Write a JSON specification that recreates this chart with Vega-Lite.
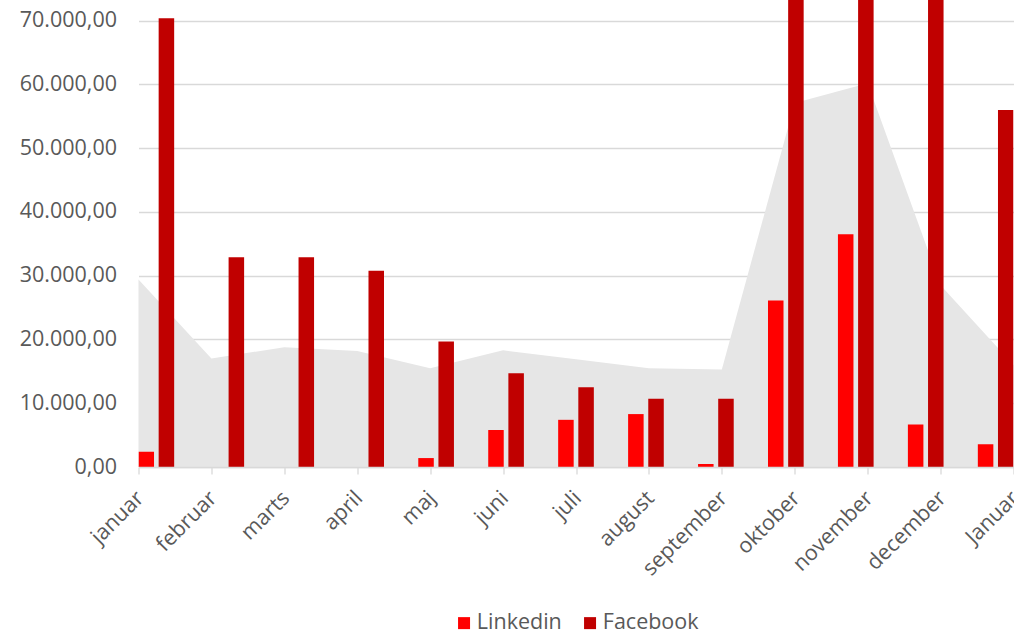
{
  "$schema": "https://vega.github.io/schema/vega-lite/v6.json",
  "width": 875,
  "height": 467,
  "autosize": {"type": "none"},
  "padding": {"left": 138.5, "top": 0, "right": 0.5, "bottom": 169},
  "config": {
    "locale": {"number": {"decimal": ",", "thousands": ".", "grouping": [3], "currency": ["", ""]}},
    "view": {"stroke": null},
    "font": "Open Sans"
  },
  "datasets": {
    "area": [
      {"month": "januar", "total": 29400},
      {"month": "februar", "total": 17000},
      {"month": "marts", "total": 18800},
      {"month": "april", "total": 18200},
      {"month": "maj", "total": 15500},
      {"month": "juni", "total": 18300},
      {"month": "juli", "total": 16900},
      {"month": "august", "total": 15500},
      {"month": "september", "total": 15300},
      {"month": "oktober", "total": 57100},
      {"month": "november", "total": 60200},
      {"month": "december", "total": 28500},
      {"month": "Januar", "total": 16000}
    ],
    "bars": [
      {"month": "januar", "series": "Linkedin", "value": 2400},
      {"month": "januar", "series": "Facebook", "value": 70400},
      {"month": "februar", "series": "Facebook", "value": 32900},
      {"month": "marts", "series": "Facebook", "value": 32900},
      {"month": "april", "series": "Facebook", "value": 30800},
      {"month": "maj", "series": "Linkedin", "value": 1400},
      {"month": "maj", "series": "Facebook", "value": 19700},
      {"month": "juni", "series": "Linkedin", "value": 5800},
      {"month": "juni", "series": "Facebook", "value": 14700},
      {"month": "juli", "series": "Linkedin", "value": 7400},
      {"month": "juli", "series": "Facebook", "value": 12500},
      {"month": "august", "series": "Linkedin", "value": 8300},
      {"month": "august", "series": "Facebook", "value": 10700},
      {"month": "september", "series": "Linkedin", "value": 470},
      {"month": "september", "series": "Facebook", "value": 10700},
      {"month": "oktober", "series": "Linkedin", "value": 26100},
      {"month": "oktober", "series": "Facebook", "value": 95000},
      {"month": "november", "series": "Linkedin", "value": 36500},
      {"month": "november", "series": "Facebook", "value": 105000},
      {"month": "december", "series": "Linkedin", "value": 6650},
      {"month": "december", "series": "Facebook", "value": 88000},
      {"month": "Januar", "series": "Linkedin", "value": 3560},
      {"month": "Januar", "series": "Facebook", "value": 56000}
    ]
  },
  "layer": [
    {
      "data": {"name": "area"},
      "mark": {"type": "area", "color": "#E6E6E6", "opacity": 1},
      "encoding": {
        "x": {
          "field": "month", "type": "ordinal", "sort": null,
          "scale": {"type": "point", "padding": 0, "domain": ["januar", "februar", "marts", "april", "maj", "juni", "juli", "august", "september", "oktober", "november", "december", "Januar"]},
          "axis": {
            "title": null, "labelAngle": -45, "labelAlign": "right", "labelBaseline": "top",
            "labelFontSize": 21.5, "labelColor": "#595959", "labelFont": "Open Sans",
            "domainColor": "#D9D9D9", "domainWidth": 1.3, "tickColor": "#D9D9D9", "tickSize": 7, "tickWidth": 1.3,
            "labelPadding": 13, "labelOffset": -6, "zindex": 1, "labelOverlap": false, "labelBound": false, "grid": false
          }
        },
        "y": {
          "field": "total", "type": "quantitative",
          "scale": {"domain": [0, 73250], "nice": false, "zero": true},
          "axis": {
            "values": [0, 10000, 20000, 30000, 40000, 50000, 60000, 70000], "format": ",.2f", "title": null,
            "grid": true, "gridColor": "#D9D9D9", "gridWidth": 1.3, "domain": false, "ticks": false,
            "labelFontSize": 21.5, "labelColor": "#595959", "labelFont": "Open Sans", "labelPadding": 22
          }
        }
      }
    },
    {
      "data": {"name": "bars"},
      "mark": {"type": "bar", "clip": true},
      "encoding": {
        "x": {
          "field": "month", "type": "nominal",
          "scale": {"type": "band", "domain": ["januar", "februar", "marts", "april", "maj", "juni", "juli", "august", "september", "oktober", "november", "december", "Januar"], "paddingInner": 0.49, "paddingOuter": 0},
          "axis": null
        },
        "xOffset": {
          "field": "series", "type": "nominal",
          "scale": {"domain": ["Linkedin", "Facebook"], "paddingInner": 0.23, "paddingOuter": 0}
        },
        "y": {
          "field": "value", "type": "quantitative",
          "axis": {
            "values": [0, 10000, 20000, 30000, 40000, 50000, 60000, 70000], "format": ",.2f", "title": null,
            "grid": true, "gridColor": "#D9D9D9", "gridWidth": 1.3, "domain": false, "ticks": false,
            "labelFontSize": 21.5, "labelColor": "#595959", "labelFont": "Open Sans", "labelPadding": 22
          }
        },
        "color": {
          "field": "series", "type": "nominal",
          "scale": {"domain": ["Linkedin", "Facebook"], "range": ["#FF0000", "#C00000"]},
          "legend": {
            "title": null, "orient": "none", "legendX": 314.8, "legendY": 612, "direction": "horizontal",
            "symbolType": "square", "symbolSize": 144, "symbolStrokeWidth": 0,
            "labelFontSize": 21.5, "labelColor": "#595959", "labelFont": "Open Sans", "labelOffset": 2,
            "columnPadding": 17, "padding": 0
          }
        }
      }
    }
  ],
  "resolve": {"scale": {"x": "independent"}}
}
